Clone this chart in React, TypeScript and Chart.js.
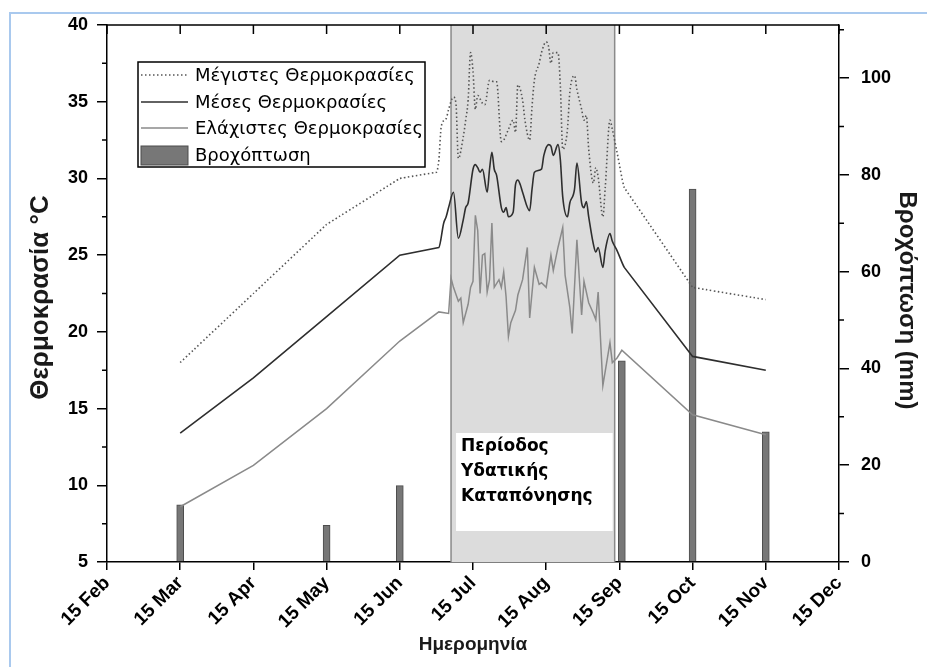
import { useEffect, useRef } from 'react';
import { Chart, registerables } from 'chart.js';

Chart.register(...registerables);

// X axis: ticks on the 15th of each month
const tickLabels = ['15 Feb', '15 Mar', '15 Apr', '15 May', '15 Jun', '15 Jul', '15 Aug', '15 Sep', '15 Oct', '15 Nov', '15 Dec'];
const tickDates = ['02-15', '03-15', '04-15', '05-15', '06-15', '07-15', '08-15', '09-15', '10-15', '11-15', '12-15'];

const seriesNames = ['Μέγιστες Θερμοκρασίες', 'Μέσες Θερμοκρασίες', 'Ελάχιστες Θερμοκρασίες', 'Βροχόπτωση'];
const xTitle = 'Ημερομηνία';
const yTitle = 'Θερμοκρασία °C';
const y1Title = 'Βροχόπτωση (mm)';

// Maximum temperature (°C)
const maxDates = [
  '03-15', '04-15', '05-15', '06-15', '06-30', '07-01', '07-02', '07-04', '07-05', '07-07', '07-08', '07-09',
  '07-11', '07-12', '07-13', '07-14', '07-15', '07-16', '07-17', '07-19', '07-20', '07-22', '07-24', '07-25',
  '07-27', '07-28', '07-30', '08-01', '08-02', '08-03', '08-05', '08-06', '08-08', '08-09', '08-10', '08-12',
  '08-13', '08-15', '08-16', '08-17', '08-18', '08-20', '08-21', '08-22', '08-24', '08-25', '08-27', '08-28',
  '08-30', '08-31', '09-01', '09-02', '09-04', '09-05', '09-06', '09-08', '09-09', '09-11', '09-12', '09-14',
  '09-17', '10-15', '11-15',
];
const maxValues = [
  18.0, 22.5, 27.0, 30.0, 30.4, 31.2, 33.4, 33.9, 34.5, 35.3, 34.9, 31.3,
  32.7, 33.8, 35.1, 38.2, 37.0, 34.5, 35.4, 34.9, 34.8, 36.4, 36.3, 36.3,
  32.4, 32.5, 33.2, 33.8, 33.0, 36.1, 35.1, 33.8, 32.5, 34.7, 36.4, 37.5,
  38.2, 38.9, 38.6, 37.5, 38.2, 38.2, 36.0, 31.9, 33.2, 35.6, 36.7, 35.8,
  34.5, 33.8, 34.1, 31.9, 29.7, 30.7, 30.1, 27.5, 29.4, 33.8, 33.2, 31.7,
  29.4, 22.9, 22.1,
];

// Mean temperature (°C)
const meanDates = [
  '03-15', '04-15', '05-15', '06-15', '07-01', '07-03', '07-04', '07-05', '07-07', '07-09', '07-11', '07-12',
  '07-13', '07-15', '07-16', '07-17', '07-18', '07-19', '07-21', '07-22', '07-23', '07-24', '07-25', '07-27',
  '07-28', '07-29', '07-30', '08-01', '08-02', '08-03', '08-04', '08-05', '08-08', '08-09', '08-10', '08-13',
  '08-14', '08-16', '08-17', '08-18', '08-20', '08-21', '08-22', '08-24', '08-25', '08-27', '08-28', '08-30',
  '08-31', '09-01', '09-02', '09-04', '09-05', '09-06', '09-08', '09-09', '09-11', '09-12', '09-14', '09-17',
  '10-15', '11-15',
];
const meanValues = [
  13.4, 17.0, 21.0, 25.0, 25.5, 27.1, 27.5, 28.1, 29.1, 26.1, 27.3, 28.1,
  28.4, 30.6, 30.9, 30.7, 30.4, 30.6, 29.1, 30.6, 31.7, 30.6, 30.2, 28.1,
  27.8, 28.1, 27.5, 27.8, 29.6, 29.9, 29.6, 29.1, 27.9, 29.3, 30.4, 30.6,
  31.5, 32.2, 32.1, 31.5, 32.2, 31.2, 28.8, 27.5, 28.4, 29.3, 31.0, 28.4,
  28.1, 28.5, 27.5, 25.7, 25.2, 25.5, 24.2, 25.3, 26.4, 25.9, 25.3, 24.2,
  18.4, 17.5,
];

// Minimum temperature (°C)
const minDates = [
  '03-15', '04-15', '05-15', '06-15', '07-01', '07-05', '07-06', '07-07', '07-09', '07-10', '07-11', '07-13',
  '07-14', '07-15', '07-16', '07-17', '07-18', '07-19', '07-20', '07-21', '07-22', '07-23', '07-24', '07-26',
  '07-27', '07-28', '07-29', '07-30', '07-31', '08-02', '08-03', '08-05', '08-07', '08-08', '08-10', '08-12',
  '08-13', '08-15', '08-17', '08-18', '08-20', '08-22', '08-23', '08-25', '08-26', '08-28', '08-30', '08-31',
  '09-02', '09-04', '09-05', '09-06', '09-08', '09-11', '09-12', '09-14', '09-16', '10-15', '11-15',
];
const minValues = [
  8.6, 11.3, 15.0, 19.4, 21.3, 21.2, 23.5, 22.9, 22.0, 22.2, 20.6, 21.8,
  22.9, 23.3, 27.6, 26.6, 22.5, 25.0, 25.1, 22.6, 23.4, 27.1, 22.9, 23.4,
  22.9, 23.9, 22.3, 19.7, 20.6, 21.4, 22.4, 23.4, 25.5, 20.9, 24.2, 23.1,
  23.2, 22.9, 25.0, 24.0, 25.5, 26.8, 23.7, 21.6, 19.9, 26.0, 21.1, 23.3,
  21.9, 21.2, 20.8, 22.6, 16.5, 19.3, 18.0, 18.3, 18.8, 14.6, 13.3,
];

// Rainfall (mm)
const rainDates = ['03-15', '05-15', '06-15', '09-16', '10-15', '11-15'];
const rainValues = [11.8, 7.6, 15.8, 41.6, 77.1, 26.9];

// Water stress period
const stressPeriod = ['07-06', '09-13'];
const stressLabel = ['Περίοδος', 'Υδατικής', 'Καταπόνησης'];

const tempTicks = [5, 10, 15, 20, 25, 30, 35, 40];
const tempMinorTicks = [7.5, 12.5, 17.5, 22.5, 27.5, 32.5, 37.5];
const rainTicks = [0, 20, 40, 60, 80, 100];
const rainMinorTicks = [10, 30, 50, 70, 90, 110];

const MONTH_START = [0, 31, 59, 90, 120, 151, 181, 212, 243, 273, 304, 334];
const dayOfYear = (md: string) => {
  const [m, d] = md.split('-').map(Number);
  return MONTH_START[m - 1] + d;
};
const tickDoy = tickDates.map(dayOfYear);
// position along the axis: one unit per month between consecutive 15ths
const toPos = (md: string) => {
  const d = dayOfYear(md);
  for (let i = 0; i < tickDoy.length - 1; i++) {
    if (d <= tickDoy[i + 1]) return i + (d - tickDoy[i]) / (tickDoy[i + 1] - tickDoy[i]);
  }
  return tickDoy.length - 1;
};
const points = (dates: string[], values: number[]) => dates.map((d, i) => ({ x: toPos(d), y: values[i] }));

const SANS = '"Liberation Sans", Arial, sans-serif';
const LEGEND_FONT = '18px "DejaVu Sans", sans-serif';
const CAPTION_FONT = 'bold 17px "DejaVu Sans", sans-serif';
const TITLE_COLOR = '#1a1a1a';

const drawRotatedTitle = (ctx: any, text: string, x: number, y: number, angle: number, size: number) => {
  ctx.save();
  ctx.translate(x, y);
  ctx.rotate(angle);
  ctx.font = `bold ${size}px ${SANS}`;
  ctx.fillStyle = TITLE_COLOR;
  ctx.textAlign = 'center';
  ctx.textBaseline = 'middle';
  ctx.fillText(text, 0, 0);
  ctx.restore();
};

const decorPlugin = {
  id: 'decor',
  // daily readings are drawn as smooth curves; monthly readings as straight segments
  beforeDatasetDraw(chart: any, args: any) {
    const meta = args.meta;
    if (meta.type !== 'line') return;
    const line = meta.dataset;
    line.updateControlPoints(chart.chartArea, 'x');
    const raw = chart.data.datasets[meta.index].data;
    const pts = meta.data;
    for (let i = 0; i < pts.length - 1; i++) {
      if (raw[i + 1].x - raw[i].x > 0.2) {
        pts[i].cp2x = pts[i].x;
        pts[i].cp2y = pts[i].y;
        pts[i + 1].cp1x = pts[i + 1].x;
        pts[i + 1].cp1y = pts[i + 1].y;
      }
    }
  },
  beforeDatasetsDraw(chart: any) {
    const { ctx, chartArea: a, scales } = chart;
    const x = scales.x;
    const x1 = x.getPixelForValue(toPos(stressPeriod[0]));
    const x2 = x.getPixelForValue(toPos(stressPeriod[1]));
    ctx.save();
    ctx.fillStyle = '#dcdcdc';
    ctx.fillRect(x1, a.top, x2 - x1, a.bottom - a.top);
    ctx.strokeStyle = '#8a8a8a';
    ctx.lineWidth = 1.5;
    ctx.beginPath();
    ctx.moveTo(x1, a.top);
    ctx.lineTo(x1, a.bottom);
    ctx.moveTo(x2, a.top);
    ctx.lineTo(x2, a.bottom);
    ctx.stroke();
    // caption box inside the stress period
    ctx.fillStyle = '#ffffff';
    ctx.fillRect(x1 + 5, a.bottom - 129, x2 - x1 - 7, 98);
    ctx.fillStyle = '#000000';
    ctx.font = CAPTION_FONT;
    ctx.textBaseline = 'middle';
    ctx.textAlign = 'left';
    stressLabel.forEach((t, i) => ctx.fillText(t, x1 + 10, a.bottom - 115 + i * 25));
    ctx.restore();
  },
  afterDraw(chart: any) {
    const { ctx, chartArea: a, scales } = chart;
    ctx.save();
    ctx.strokeStyle = '#000000';
    ctx.lineWidth = 1.5;
    ctx.beginPath();
    // top frame with inward ticks
    ctx.moveTo(a.left, a.top);
    ctx.lineTo(a.right, a.top);
    tickLabels.forEach((_, i) => {
      const px = scales.x.getPixelForValue(i);
      ctx.moveTo(px, a.top);
      ctx.lineTo(px, a.top + 9);
    });
    // minor ticks
    tempMinorTicks.forEach((v) => {
      const py = scales.y.getPixelForValue(v);
      ctx.moveTo(a.left, py);
      ctx.lineTo(a.left - 5, py);
    });
    rainMinorTicks.forEach((v) => {
      const py = scales.y1.getPixelForValue(v);
      ctx.moveTo(a.right, py);
      ctx.lineTo(a.right + 5, py);
    });
    ctx.stroke();

    // axis titles
    const midY = (a.top + a.bottom) / 2;
    drawRotatedTitle(ctx, yTitle, a.left - 66, midY + 4, -Math.PI / 2, 26);
    drawRotatedTitle(ctx, y1Title, a.right + 68, midY + 7, Math.PI / 2, 24);

    // legend
    const lx = a.left + 31;
    const ly = a.top + 37;
    const lw = 287;
    const lh = 105;
    ctx.fillStyle = '#ffffff';
    ctx.fillRect(lx, ly, lw, lh);
    ctx.strokeStyle = '#000000';
    ctx.lineWidth = 1.5;
    ctx.strokeRect(lx, ly, lw, lh);
    ctx.font = LEGEND_FONT;
    ctx.textBaseline = 'middle';
    ctx.textAlign = 'left';
    const rows = [13, 40, 66, 93];
    chart.data.datasets.forEach((ds: any, i: number) => {
      const ry = ly + rows[i];
      if (ds.type === 'bar') {
        ctx.fillStyle = ds.backgroundColor;
        ctx.fillRect(lx + 3, ry - 9, 47, 19);
        ctx.strokeStyle = ds.borderColor;
        ctx.lineWidth = 1;
        ctx.strokeRect(lx + 3, ry - 9, 47, 19);
      } else {
        ctx.strokeStyle = ds.borderColor;
        ctx.lineWidth = ds.borderWidth;
        ctx.setLineDash(ds.borderDash || []);
        ctx.beginPath();
        ctx.moveTo(lx + 3, ry);
        ctx.lineTo(lx + 50, ry);
        ctx.stroke();
        ctx.setLineDash([]);
      }
      ctx.fillStyle = '#000000';
      ctx.fillText(ds.label, lx + 57, ry + 1);
    });
    ctx.restore();
  },
};

export default function App() {
  const canvasRef = useRef<HTMLCanvasElement | null>(null);

  useEffect(() => {
    const canvas = canvasRef.current;
    if (!canvas) return;
    const tickFont = { family: SANS, size: 19, weight: 'bold' as const };
    const valueFont = { family: SANS, size: 18, weight: 'bold' as const };
    const chart = new Chart(canvas, {
      type: 'line',
      data: {
        datasets: [
          {
            type: 'line',
            label: seriesNames[0],
            data: points(maxDates, maxValues),
            yAxisID: 'y',
            borderColor: '#555555',
            borderWidth: 1.6,
            borderDash: [1.5, 2.5],
            pointRadius: 0,
            cubicInterpolationMode: 'monotone',
            order: 1,
          },
          {
            type: 'line',
            label: seriesNames[1],
            data: points(meanDates, meanValues),
            yAxisID: 'y',
            borderColor: '#2e2e2e',
            borderWidth: 1.6,
            pointRadius: 0,
            cubicInterpolationMode: 'monotone',
            order: 2,
          },
          {
            type: 'line',
            label: seriesNames[2],
            data: points(minDates, minValues),
            yAxisID: 'y',
            borderColor: '#8a8a8a',
            borderWidth: 1.5,
            pointRadius: 0,
            tension: 0,
            order: 3,
          },
          {
            type: 'bar',
            label: seriesNames[3],
            data: points(rainDates, rainValues),
            yAxisID: 'y1',
            backgroundColor: '#777777',
            borderColor: '#4d4d4d',
            borderWidth: 1,
            barThickness: 7,
            order: 5,
          },
        ] as any,
      },
      options: {
        responsive: false,
        animation: false,
        devicePixelRatio: 1,
        layout: { padding: { top: 25, left: 0, right: 0, bottom: 0 }, autoPadding: false },
        plugins: { legend: { display: false }, tooltip: { enabled: false } },
        scales: {
          x: {
            type: 'linear',
            min: 0,
            max: tickLabels.length - 1,
            offset: false,
            afterBuildTicks: (s: any) => {
              s.ticks = tickLabels.map((_, i) => ({ value: i }));
            },
            afterFit: (s: any) => {
              s.height = 105;
            },
            ticks: {
              autoSkip: false,
              minRotation: 45,
              maxRotation: 45,
              padding: 2,
              color: '#000000',
              font: tickFont,
              callback: (_v: any, i: number) => tickLabels[i],
            },
            grid: { drawOnChartArea: false, tickLength: 8, color: '#000000', lineWidth: 1.5, offset: false },
            border: { display: true, color: '#000000', width: 1.5 },
            title: {
              display: true,
              text: xTitle,
              color: TITLE_COLOR,
              font: { family: SANS, size: 19, weight: 'bold' },
              padding: { top: 0, bottom: 11 },
            },
          },
          y: {
            type: 'linear',
            position: 'left',
            min: 5,
            max: 40,
            afterBuildTicks: (s: any) => {
              s.ticks = tempTicks.map((v) => ({ value: v }));
            },
            afterFit: (s: any) => {
              s.width = 107;
            },
            ticks: { padding: 9, color: '#000000', font: valueFont },
            grid: { drawOnChartArea: false, tickLength: 10, color: '#000000', lineWidth: 1.5 },
            border: { display: true, color: '#000000', width: 1.5 },
            title: { display: false },
          },
          y1: {
            type: 'linear',
            position: 'right',
            min: 0,
            max: 111,
            afterBuildTicks: (s: any) => {
              s.ticks = rainTicks.map((v) => ({ value: v }));
            },
            afterFit: (s: any) => {
              s.width = 88;
            },
            ticks: { padding: 12, color: '#000000', font: valueFont },
            grid: { drawOnChartArea: false, tickLength: 10, color: '#000000', lineWidth: 1.5 },
            border: { display: true, color: '#000000', width: 1.5 },
            title: { display: false },
          },
        },
      } as any,
      plugins: [decorPlugin],
    });
    return () => chart.destroy();
  }, []);

  return (
    <div style={{ position: 'absolute', left: 0, top: 0, width: 927, height: 667, background: '#ffffff' }}>
      <div
        style={{
          position: 'absolute',
          left: 9,
          top: 12,
          right: 0,
          bottom: 0,
          borderLeft: '2px solid #a9c9ee',
          borderTop: '2px solid #a9c9ee',
        }}
      />
      <canvas ref={canvasRef} width={927} height={667} style={{ position: 'absolute', left: 0, top: 0 }} />
    </div>
  );
}
